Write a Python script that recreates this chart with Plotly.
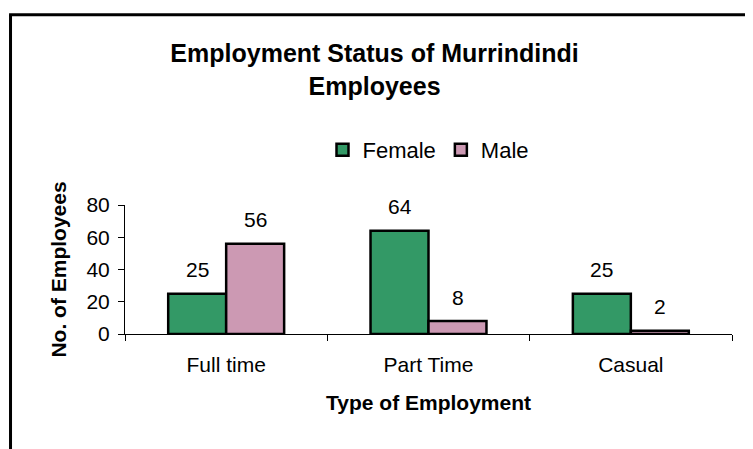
import plotly.graph_objects as go

categories = ["Full time", "Part Time", "Casual"]
female = [25, 64, 25]
male = [56, 8, 2]
series_names = ["Female", "Male"]
y_ticks = [0, 20, 40, 60, 80]

FONT = "Arial, Liberation Sans, sans-serif"
GREEN = "#339966"
PINK = "#CC99B3"

fig = go.Figure()
fig.add_trace(go.Bar(name=series_names[0], x=categories, y=female,
                     marker=dict(color=GREEN, line=dict(color="black", width=2.5))))
fig.add_trace(go.Bar(name=series_names[1], x=categories, y=male,
                     marker=dict(color=PINK, line=dict(color="black", width=2.5))))

# data labels above each bar
half_bar = 29
for vals, shift in ((female, -half_bar), (male, half_bar)):
    for c, v in zip(categories, vals):
        fig.add_annotation(x=c, y=v, text=str(v), showarrow=False,
                           xshift=shift, yshift=24, yanchor="middle",
                           font=dict(family=FONT, size=21, color="black"))

# outer chart frame (left and top edges)
fig.add_shape(type="line", xref="paper", yref="paper",
              x0=-0.1886, x1=-0.1886, y0=2.475, y1=-1.2,
              line=dict(color="black", width=3))
fig.add_shape(type="line", xref="paper", yref="paper",
              x0=-0.191, x1=1.1, y0=2.475, y1=2.475,
              line=dict(color="black", width=3))

# the page body adds an 8px offset, so the figure is 8px smaller
fig.update_layout(
    width=745, height=441,
    margin=dict(l=117, r=21, t=197, b=115),
    paper_bgcolor="white", plot_bgcolor="white",
    barmode="group", bargap=0.427, bargroupgap=0,
    font=dict(family=FONT, size=21, color="black"),
    title=dict(text="<b>Employment Status of Murrindindi<br>Employees</b>",
               x=0.492, xanchor="center", xref="container",
               y=0.877, yanchor="top", yref="container",
               font=dict(family=FONT, size=25, color="black")),
    legend=dict(orientation="h", x=0.5, xanchor="center", y=1.426, yanchor="middle",
                font=dict(family=FONT, size=22, color="black"),
                itemwidth=30, traceorder="normal", bgcolor="rgba(0,0,0,0)"),
    showlegend=True,
)
fig.update_xaxes(
    showline=True, linecolor="black", linewidth=1,
    ticks="outside", tickson="boundaries", ticklen=6, tickcolor="black",
    showgrid=False, ticklabelstandoff=12,
    title=dict(text="<b>Type of Employment</b>", standoff=20,
               font=dict(family=FONT, size=21, color="black")),
)
fig.update_yaxes(
    range=[0, 80], tickvals=y_ticks, showline=True, linecolor="black", linewidth=1,
    ticks="outside", ticklen=6, tickcolor="black", showgrid=False, zeroline=False,
    ticklabelstandoff=4,
    title=dict(text="<b>No. of Employees</b>", standoff=14,
               font=dict(family=FONT, size=21, color="black")),
)

fig.write_html("out.html")
